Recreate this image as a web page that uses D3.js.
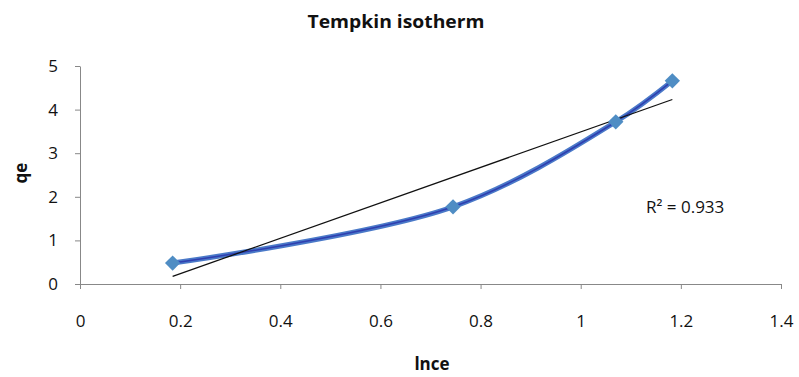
<!DOCTYPE html>
<html>
<head>
<meta charset="utf-8">
<script src="https://cdn.jsdelivr.net/npm/d3@7"></script>
<style>
  body { margin: 0; background: #fff; }
  text { font-family: "Open Sans", sans-serif; }
</style>
</head>
<body>
<svg id="canvas" width="799" height="377"></svg>
<script>
let lnce = [0.185, 0.745, 1.07, 1.183];
let qe = [0.48, 1.77, 3.72, 4.66];
let xTicks = [0, 0.2, 0.4, 0.6, 0.8, 1, 1.2, 1.4];
let yTicks = [0, 1, 2, 3, 4, 5];
let rSquaredLabel = "R² = 0.933";

let canvas = d3.select("#canvas");

let xScale = d3.scaleLinear().domain([0, 1.4]).range([80, 781]);
let yScale = d3.scaleLinear().domain([0, 5]).range([284, 66]);

let points = lnce.map((x, i) => ({ x: x, y: qe[i] }));

// least squares trend line
let mx = d3.mean(lnce);
let my = d3.mean(qe);
let sxy = d3.sum(points, (p) => (p.x - mx) * (p.y - my));
let sxx = d3.sum(points, (p) => (p.x - mx) * (p.x - mx));
let slope = sxy / sxx;
let intercept = my - slope * mx;
let xMin = d3.min(lnce);
let xMax = d3.max(lnce);

let xAxis = d3.axisBottom(xScale).tickValues(xTicks).tickSize(5).tickSizeOuter(0)
  .tickFormat((d) => d3.format("")(d));
let yAxis = d3.axisLeft(yScale).tickValues(yTicks).tickSize(5).tickSizeOuter(0)
  .tickFormat(d3.format("d"));

let gx = canvas.append("g").attr("transform", "translate(0,284)").call(xAxis);
let gy = canvas.append("g").attr("transform", "translate(80,0)").call(yAxis);

gx.select(".domain").attr("stroke", "#888");
gx.selectAll(".tick line").attr("stroke", "#888");
gx.selectAll(".tick text").attr("y", 31).attr("dy", "0.71em")
  .style("font-size", "17px").attr("fill", "#111");
gy.select(".domain").attr("stroke", "#888");
gy.selectAll(".tick line").attr("stroke", "#888");
gy.selectAll(".tick text").attr("x", -22)
  .style("font-size", "17px").attr("fill", "#111");

// smoothed data line
let lineGen = d3.line().x((d) => xScale(d.x)).y((d) => yScale(d.y)).curve(d3.curveCatmullRom.alpha(0.5));
canvas.append("path")
  .datum(points)
  .attr("fill", "none")
  .attr("stroke", "#4a79c8")
  .attr("stroke-width", 5)
  .attr("d", lineGen);
canvas.append("path")
  .datum(points)
  .attr("fill", "none")
  .attr("stroke", "#2f3fb0")
  .attr("stroke-width", 1.5)
  .attr("d", lineGen);

// trend line
canvas.append("line")
  .attr("x1", xScale(xMin)).attr("y1", yScale(slope * xMin + intercept))
  .attr("x2", xScale(xMax)).attr("y2", yScale(slope * xMax + intercept))
  .attr("stroke", "#111").attr("stroke-width", 1.3);

// markers
canvas.selectAll(".marker")
  .data(points)
  .enter()
  .append("path")
  .attr("class", "marker")
  .attr("transform", (d) => "translate(" + xScale(d.x) + "," + yScale(d.y) + ")")
  .attr("d", d3.symbol().type(d3.symbolDiamond2).size(150))
  .attr("fill", "#4f8dc4");

canvas.append("text")
  .attr("x", 646).attr("y", 213)
  .style("font-size", "17px").attr("fill", "#111")
  .text(rSquaredLabel);

canvas.append("text")
  .attr("x", 396).attr("y", 28).attr("text-anchor", "middle")
  .style("font-size", "18px").style("font-weight", "bold").attr("fill", "#111")
  .attr("textLength", 177).attr("lengthAdjust", "spacingAndGlyphs")
  .text("Tempkin isotherm");

canvas.append("text")
  .attr("x", 432).attr("y", 370).attr("text-anchor", "middle")
  .style("font-size", "17px").style("font-weight", "bold").attr("fill", "#111")
  .text("lnce");

canvas.append("text")
  .attr("transform", "translate(27,173) rotate(-90)").attr("text-anchor", "middle")
  .style("font-size", "17px").style("font-weight", "bold").attr("fill", "#111")
  .text("qe");
</script>
</body>
</html>
